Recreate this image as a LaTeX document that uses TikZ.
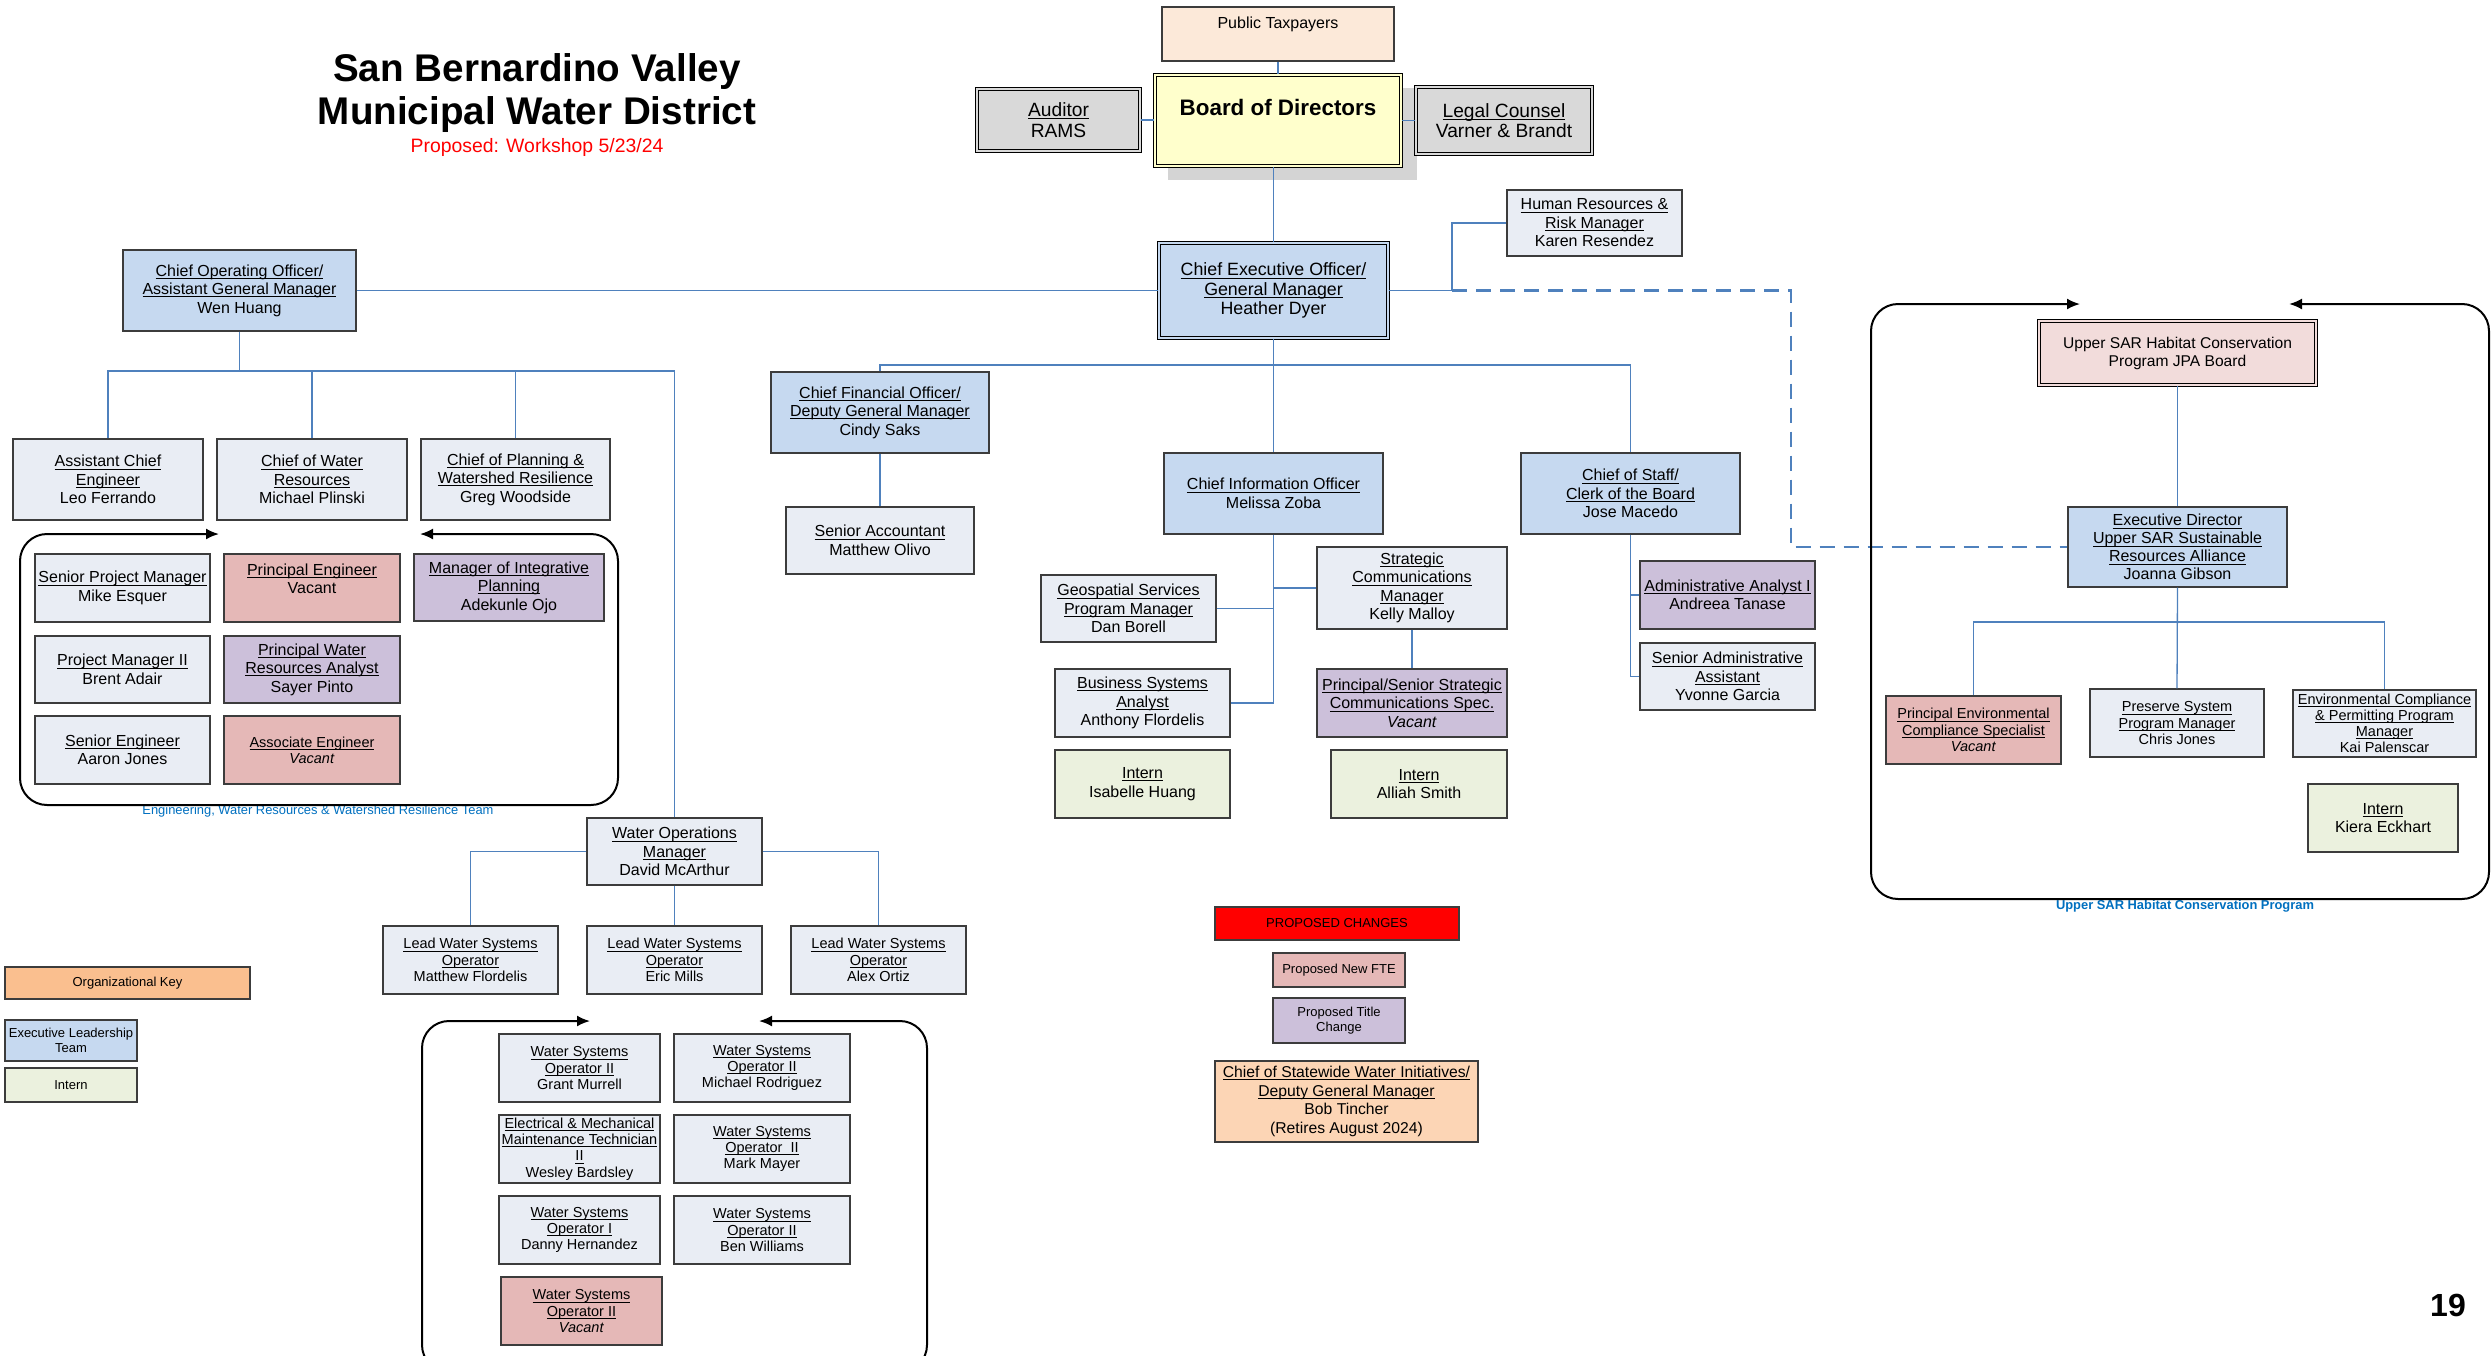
\documentclass[tikz,border=0pt]{standalone}
\usepackage{fontspec}
\setmainfont{Liberation Sans}
\usetikzlibrary{arrows.meta}
\definecolor{lightbox}{RGB}{233,237,244}
\definecolor{execblue}{RGB}{198,217,240}
\definecolor{newfte}{RGB}{229,184,183}
\definecolor{titlech}{RGB}{204,192,218}
\definecolor{interngreen}{RGB}{235,241,222}
\definecolor{peach}{RGB}{252,233,217}
\definecolor{boardyellow}{RGB}{255,255,204}
\definecolor{advgray}{RGB}{217,217,217}
\definecolor{shadowgray}{RGB}{212,212,212}
\definecolor{keyorange}{RGB}{250,191,143}
\definecolor{statewide}{RGB}{252,213,181}
\definecolor{jpapink}{RGB}{242,220,219}
\definecolor{lineblue}{RGB}{79,129,189}
\definecolor{labelblue}{RGB}{0,112,192}
\definecolor{borderc}{RGB}{60,60,60}
\newsavebox\ttlbox
\newcommand\ttl[1]{\sbox\ttlbox{#1}\rlap{\rule[-2.6pt]{\wd\ttlbox}{0.8pt}}\usebox\ttlbox}
\newcommand\bx[7]{\node[box,#2,minimum width={#5-#3},minimum height={#6-#4}] (#1) at ({(#3+#5)/2},{(#4+#6)/2}) {#7};}
\begin{document}
\begin{tikzpicture}[x=1pt,y=-1pt,
  box/.style={draw=borderc,line width=1.3pt,fill=lightbox,inner sep=1pt,align=center,font=\fontsize{16}{18.5}\selectfont},
  exec/.style={fill=execblue},
  fte/.style={fill=newfte},
  tch/.style={fill=titlech},
  intern/.style={fill=interngreen},
  small/.style={font=\fontsize{14.5}{16.2}\selectfont},
  tiny/.style={font=\fontsize{13}{14.5}\selectfont},
  dbl/.style={draw=black,line width=1.1pt,double distance=2.5pt,double=#1,fill=#1},
  conn/.style={draw=lineblue,line width=1.3pt},
  dashconn/.style={draw=lineblue,line width=2.2pt,dash pattern=on 15pt off 9pt},
  frame/.style={draw=black,line width=2pt,rounded corners=27pt,-{Latex[length=13pt,width=11pt]}}
]
\clip (0,0) rectangle (2492,1355);
\fill[white] (0,0) rectangle (2492,1355);

% Title
\node[font=\bfseries\fontsize{38.6}{42.5}\selectfont,align=center] (title) at (537,93) {San Bernardino Valley\\Municipal Water District};
\node[text=red,font=\fontsize{19.4}{22}\selectfont] (subtitle) at (537,147) {Proposed: Workshop 5/23/24};

% Top
\bx{pub}{fill=peach}{1162}{7}{1394}{61}{}
\node[font=\fontsize{16}{18.5}\selectfont] (pubt) at (1278,24) {Public Taxpayers};
\fill[shadowgray] (1168,88) rectangle (1417,180);
\bx{board}{dbl=boardyellow}{1155}{75}{1401}{166}{}
\node[font=\bfseries\fontsize{22.4}{26}\selectfont] (boardt) at (1278,107) {Board of Directors};
\bx{aud}{dbl=advgray,font=\fontsize{19.2}{20.7}\selectfont}{977}{89}{1140}{151}{\ttl{Auditor}\\RAMS}
\bx{legal}{dbl=advgray,font=\fontsize{19.2}{20.7}\selectfont}{1416}{87}{1592}{154}{\ttl{Legal Counsel}\\Varner \& Brandt}
\bx{hr}{}{1507}{190}{1682}{256}{\ttl{Human Resources \&}\\\ttl{Risk Manager}\\Karen Resendez}
\bx{ceo}{dbl=execblue,font=\fontsize{17.8}{19.3}\selectfont}{1159}{243}{1388}{338}{\ttl{Chief Executive Officer/}\\\ttl{General Manager}\\Heather Dyer}

% COO branch
\bx{coo}{exec}{123}{250}{356}{331}{\ttl{Chief Operating Officer/}\\\ttl{Assistant General Manager}\\Wen Huang}
\bx{ace}{}{13}{439}{203}{520}{\ttl{Assistant Chief}\\\ttl{Engineer}\\Leo Ferrando}
\bx{cwr}{}{217}{439}{407}{520}{\ttl{Chief of Water}\\\ttl{Resources}\\Michael Plinski}
\bx{cpw}{}{421}{439}{610}{520}{\ttl{Chief of Planning \&}\\\ttl{Watershed Resilience}\\Greg Woodside}

\bx{spm}{}{35}{554}{210}{622}{\ttl{Senior Project Manager}\\Mike Esquer}
\bx{pe}{fte}{224}{554}{400}{622}{\ttl{Principal Engineer}\\Vacant\\\mbox{}}
\bx{mip}{tch}{414}{554}{604}{621}{\ttl{Manager of Integrative}\\\ttl{Planning}\\Adekunle Ojo}
\bx{pm2}{}{35}{636}{210}{703}{\ttl{Project Manager II}\\Brent Adair}
\bx{pwra}{tch}{224}{636}{400}{703}{\ttl{Principal Water}\\\ttl{Resources Analyst}\\Sayer Pinto}
\bx{se}{}{35}{716}{210}{784}{\ttl{Senior Engineer}\\Aaron Jones}
\bx{ae}{fte,small}{224}{716}{400}{784}{\ttl{Associate Engineer}\\\textit{Vacant}}
\node[text=labelblue,font=\fontsize{12.9}{15}\selectfont] (teamlbl) at (318,811) {Engineering, Water Resources \& Watershed Resilience Team};

\bx{wom}{}{587}{818}{762}{885}{\ttl{Water Operations}\\\ttl{Manager}\\David McArthur}
\bx{lwm}{small}{383}{926}{558}{994}{\ttl{Lead Water Systems}\\\ttl{Operator}\\Matthew Flordelis}
\bx{lwe}{small}{587}{926}{762}{994}{\ttl{Lead Water Systems}\\\ttl{Operator}\\Eric Mills}
\bx{lwa}{small}{791}{926}{966}{994}{\ttl{Lead Water Systems}\\\ttl{Operator}\\Alex Ortiz}

\bx{wgm}{small}{499}{1034}{660}{1102}{\ttl{Water Systems}\\\ttl{Operator II}\\Grant Murrell}
\bx{wmr}{small}{674}{1034}{850}{1102}{\ttl{Water Systems}\\\ttl{Operator II}\\Michael Rodriguez}
\bx{emt}{small}{499}{1115}{660}{1183}{\ttl{Electrical \& Mechanical}\\\ttl{Maintenance Technician}\\\ttl{II}\\Wesley Bardsley}
\bx{wmm}{small}{674}{1115}{850}{1183}{\ttl{Water Systems}\\\ttl{Operator\ \ II}\\Mark Mayer}
\bx{wdh}{small}{499}{1196}{660}{1264}{\ttl{Water Systems}\\\ttl{Operator I}\\Danny Hernandez}
\bx{wbw}{small}{674}{1196}{850}{1264}{\ttl{Water Systems}\\\ttl{Operator II}\\Ben Williams}
\bx{wvac}{fte,small}{501}{1277}{662}{1345}{\ttl{Water Systems}\\\ttl{Operator II}\\\textit{Vacant}}

% CFO / CIO / CoS
\bx{cfo}{exec}{771}{372}{989}{453}{\ttl{Chief Financial Officer/}\\\ttl{Deputy General Manager}\\Cindy Saks}
\bx{sacc}{}{786}{507}{974}{574}{\ttl{Senior Accountant}\\Matthew Olivo}
\bx{cio}{exec}{1164}{453}{1383}{534}{\ttl{Chief Information Officer}\\Melissa Zoba}
\bx{cos}{exec}{1521}{453}{1740}{534}{\ttl{Chief of Staff/}\\\ttl{Clerk of the Board}\\Jose Macedo}
\bx{geo}{}{1041}{575}{1216}{642}{\ttl{Geospatial Services}\\\ttl{Program Manager}\\Dan Borell}
\bx{scm}{}{1317}{547}{1507}{629}{\ttl{Strategic}\\\ttl{Communications}\\\ttl{Manager}\\Kelly Malloy}
\bx{bsa}{}{1055}{669}{1230}{737}{\ttl{Business Systems}\\\ttl{Analyst}\\Anthony Flordelis}
\bx{pss}{tch}{1317}{669}{1507}{737}{\ttl{Principal/Senior Strategic}\\\ttl{Communications Spec.}\\\textit{Vacant}}
\bx{iih}{intern}{1055}{750}{1230}{818}{\ttl{Intern}\\Isabelle Huang}
\bx{ias}{intern}{1331}{750}{1507}{818}{\ttl{Intern}\\Alliah Smith}
\bx{aa}{tch}{1640}{561}{1815}{629}{\ttl{Administrative Analyst I}\\Andreea Tanase}
\bx{saa}{}{1640}{643}{1815}{710}{\ttl{Senior Administrative}\\\ttl{Assistant}\\Yvonne Garcia}

% Upper SAR
\bx{jpa}{dbl=jpapink,font=\fontsize{15.6}{18}\selectfont}{2039}{321}{2316}{385}{Upper SAR Habitat Conservation\\Program JPA Board}
\bx{ed}{exec,font=\fontsize{16}{18}\selectfont}{2068}{507}{2287}{587}{\ttl{Executive Director}\\\ttl{Upper SAR Sustainable}\\\ttl{Resources Alliance}\\Joanna Gibson}
\bx{pec}{fte,small}{1886}{696}{2061}{764}{\ttl{Principal Environmental}\\\ttl{Compliance Specialist}\\\textit{Vacant}}
\bx{psp}{small}{2090}{689}{2264}{757}{\ttl{Preserve System}\\\ttl{Program Manager}\\Chris Jones}
\bx{ecp}{font=\fontsize{14.5}{16}\selectfont}{2293}{690}{2476}{757}{\ttl{Environmental Compliance}\\\ttl{\& Permitting Program}\\\ttl{Manager}\\Kai Palenscar}
\bx{ike}{intern}{2308}{784}{2458}{852}{\ttl{Intern}\\Kiera Eckhart}
\node[text=labelblue,font=\bfseries\fontsize{12.9}{15}\selectfont] (sarlbl) at (2185,906) {Upper SAR Habitat Conservation Program};

% Keys and legend
\bx{orgkey}{fill=keyorange,tiny}{5}{967}{250}{999}{Organizational Key}
\bx{execkey}{exec,tiny}{5}{1020}{137}{1061}{Executive Leadership\\Team}
\bx{internkey}{intern,tiny}{5}{1068}{137}{1102}{Intern}
\bx{propch}{fill=red,tiny}{1215}{907}{1459}{940}{PROPOSED CHANGES}
\bx{newfte}{fte,tiny}{1273}{953}{1405}{987}{Proposed New FTE}
\bx{titlech}{tch,tiny}{1273}{998}{1405}{1043}{Proposed Title\\Change}
\bx{swi}{fill=statewide,font=\fontsize{15.7}{18.7}\selectfont}{1215}{1061}{1478}{1142}{\ttl{Chief of Statewide Water Initiatives/}\\\ttl{Deputy General Manager}\\Bob Tincher\\(Retires August 2024)}

\node[font=\bfseries\fontsize{32}{36}\selectfont] (pagenum) at (2448,1305) {19};

% Bus coordinates
\coordinate (busceo) at (0,365);
\coordinate (buscoo) at (0,371);
\coordinate (bussar) at (0,622);
\coordinate (hrj) at (1452,0);
\coordinate (dj) at (1791,0);

% Connectors
\draw[conn] (pub.south) -- (board.north);
\draw[conn] (aud.east) -- (aud.east -| board.west);
\draw[conn] (legal.west) -- (legal.west -| board.east);
\draw[conn] (board.south -| ceo.north) -- (ceo.north);
\draw[conn] (coo.east) -- (coo.east -| ceo.west);
\draw[conn] (ceo.east) -- (ceo.east -| hrj) |- (hr.west);
\draw[dashconn] (ceo.east -| hrj) -- (ceo.east -| dj) |- (ed.west);
\draw[conn] (ceo.south) -- (cio.north);
\draw[conn] (cfo.north) -- (cfo.north |- busceo) -| (cos.north);
\draw[conn] (coo.south) -- (coo.south |- buscoo);
\draw[conn] (ace.north) -- (ace.north |- buscoo) -| (wom.north);
\draw[conn] (cwr.north) -- (cwr.north |- buscoo);
\draw[conn] (cpw.north) -- (cpw.north |- buscoo);
\draw[conn] (cfo.south) -- (sacc.north);
\draw[conn] (cio.south) -- (cio.south |- bsa.east) -- (bsa.east);
\draw[conn] (geo.east) -- (geo.east -| cio.south);
\draw[conn] (scm.west) -- (scm.west -| cio.south);
\draw[conn] (scm.south) -- (pss.north);
\draw[conn] (cos.south) -- (cos.south |- saa.west) -- (saa.west);
\draw[conn] (aa.west) -- (aa.west -| cos.south);
\draw[conn] (jpa.south) -- (ed.north);
\draw[conn] (ed.south) -- (psp.north);
\draw[conn] (pec.north) -- (pec.north |- bussar) -| (ecp.north);
\draw[conn] (wom.west) -| (lwm.north);
\draw[conn] (wom.east) -| (lwa.north);
\draw[conn] (wom.south) -- (lwe.north);

% Frames
\coordinate (lfA) at (219,534);
\coordinate (lfB) at (420,534);
\draw[frame] (320,805) -- (20,805) -- (20,534) -- (lfA);
\draw[frame] (320,805) -- (618,805) -- (618,534) -- (lfB);
\coordinate (bfA) at (590,1021);
\coordinate (bfB) at (759,1021);
\draw[frame] (674,1372) -- (422,1372) -- (422,1021) -- (bfA);
\draw[frame] (674,1372) -- (927,1372) -- (927,1021) -- (bfB);
\coordinate (sfA) at (2080,304);
\coordinate (sfB) at (2289,304);
\draw[frame] (2180,899) -- (1871,899) -- (1871,304) -- (sfA);
\draw[frame] (2180,899) -- (2489,899) -- (2489,304) -- (sfB);
\end{tikzpicture}
\end{document}
